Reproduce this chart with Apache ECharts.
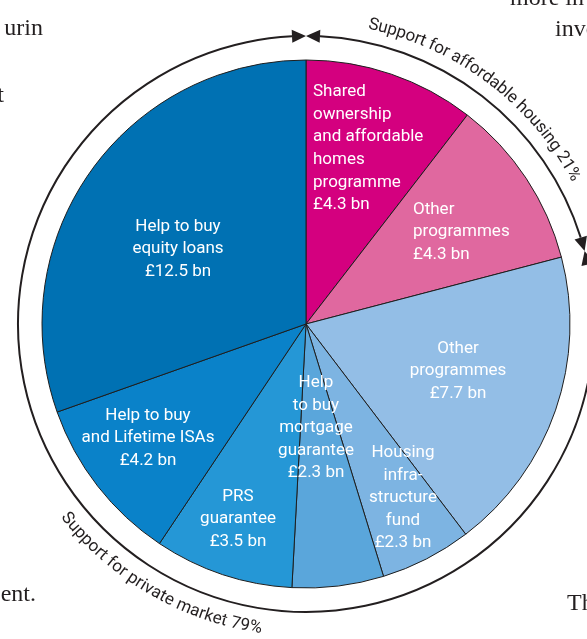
<!DOCTYPE html>
<html>
<head>
<meta charset="utf-8">
<script src="https://cdn.jsdelivr.net/npm/echarts@6/dist/echarts.min.js"></script>
<style>
  html, body { margin: 0; padding: 0; background: #ffffff; }
  #chart { width: 587px; height: 639px; }
</style>
</head>
<body>
<div id="chart"></div>
<script>
// slices, clockwise from 12 o'clock
const sliceNames = [
  'Shared\nownership\nand affordable\nhomes\nprogramme',
  'Other\nprogrammes',
  'Other\nprogrammes',
  'Housing\ninfra-\nstructure\nfund',
  'Help\nto buy\nmortgage\nguarantee',
  'PRS\nguarantee',
  'Help to buy\nand Lifetime ISAs',
  'Help to buy\nequity loans'
];
const sliceValues = [4.3, 4.3, 7.7, 2.3, 2.3, 3.5, 4.2, 12.5];
const sliceColors = ['#d4007f', '#e0689f', '#93bee6', '#7db4e2', '#5aa6db', '#2597d6', '#0a82c9', '#0071b3'];

// the two groups drawn round the outside ring
const groupTitles = ['Support for affordable housing 21%', 'Support for private market 79%'];
const groupSizes = [2, 6];   // how many slices belong to each group

// cut-off words of the page text behind the figure
const pageWords = ['urin', 't', 'more in', 'invest', 'ent.', 'and to', 'Th', 'housing'];

// ---- layout ----
const cx = 306, cy = 324, pieR = 264, ringR = 288;
const ink = '#231f20';
const labelSpots = [
  [313, 148.5, 'left'], [413, 232, 'left'], [458, 371, 'center'], [403, 498, 'center'],
  [316, 428, 'center'], [238, 519, 'center'], [148, 438, 'center'], [178, 249, 'center']
];
const wordSpots = [
  [43, 37, 'right'], [4, 104, 'right'], [510, 7, 'left'], [555, 38, 'left'],
  [36, 603, 'right'], [-12, 662, 'left'], [567, 612, 'left'], [522, 661, 'left']
];

const total = sliceValues.reduce((a, b) => a + b, 0);
const splitDeg = sliceValues.slice(0, groupSizes[0]).reduce((a, b) => a + b, 0) / total * 360;
const rad = d => d * Math.PI / 180;

// point on a circle, angle measured clockwise from north
function onCircle(r, th) {
  return [cx + r * Math.sin(th), cy - r * Math.cos(th)];
}

const graphics = [];

// ring arcs with double arrow heads
const headLen = 14, headHalf = 6.5;
function ringArc(fromDeg, toDeg) {
  const a0 = rad(fromDeg) + headLen / ringR;
  const a1 = rad(toDeg) - headLen / ringR;
  graphics.push({
    type: 'arc', silent: true,
    shape: { cx: cx, cy: cy, r: ringR, startAngle: a0 - Math.PI / 2, endAngle: a1 - Math.PI / 2, clockwise: true },
    style: { stroke: ink, lineWidth: 2, fill: null }
  });
  [[rad(fromDeg), a0], [rad(toDeg), a1]].forEach(([tipA, baseA]) => {
    const tip = onCircle(ringR, tipA);
    const u = [Math.sin(baseA), -Math.cos(baseA)];
    const b = onCircle(ringR, baseA);
    graphics.push({
      type: 'polygon', silent: true,
      shape: { points: [tip, [b[0] + u[0] * headHalf, b[1] + u[1] * headHalf], [b[0] - u[0] * headHalf, b[1] - u[1] * headHalf]] },
      style: { fill: ink }
    });
  });
}
ringArc(0, splitDeg);
ringArc(splitDeg, 360);

// text set along the ring, one glyph at a time
const arcFont = '17px Roboto';
const ctx = document.createElement('canvas').getContext('2d');
ctx.font = arcFont;
function arcText(str, r, centerDeg, outward) {
  const chars = Array.from(str);
  const widths = chars.map(c => ctx.measureText(c).width);
  const w = widths.reduce((a, b) => a + b, 0);
  let s = 0;
  chars.forEach((c, i) => {
    const mid = s + widths[i] / 2;
    s += widths[i];
    let th, rot;
    if (outward) {
      th = rad(centerDeg) - w / (2 * r) + mid / r;
      rot = -th;
    } else {
      th = rad(centerDeg) + w / (2 * r) - mid / r;
      rot = -(th - Math.PI);
    }
    const p = onCircle(r, th);
    graphics.push({
      type: 'text', silent: true, x: p[0], y: p[1], rotation: rot,
      style: {
        text: c, font: arcFont, fill: ink,
        align: 'center', verticalAlign: 'middle',
        textAlign: 'center', textVerticalAlign: 'middle'
      }
    });
  });
}
arcText(groupTitles[0], 306, splitDeg / 2 - 0.8, true);
arcText(groupTitles[1], 308, 210, false);

// page text fragments
pageWords.forEach((t, i) => {
  const s = wordSpots[i];
  graphics.push({
    type: 'text', silent: true, x: s[0], y: s[1] - 8,
    style: {
      text: t, font: '24px "Liberation Serif"', fill: ink,
      align: s[2], verticalAlign: 'middle',
      textAlign: s[2], textVerticalAlign: 'middle'
    }
  });
});

const chart = echarts.init(document.getElementById('chart'));
chart.setOption({
  animation: false,
  backgroundColor: '#ffffff',
  series: [{
    type: 'pie',
    center: [cx, cy],
    radius: pieR,
    startAngle: 90,
    clockwise: true,
    silent: true,
    itemStyle: { borderColor: '#1e1e1e', borderWidth: 1 },
    label: {
      show: true,
      position: 'inside',
      color: '#ffffff',
      fontFamily: 'Roboto',
      fontSize: 17,
      lineHeight: 22.6,
      formatter: p => p.name + '\n£' + p.value.toFixed(1) + ' bn'
    },
    labelLine: { show: false },
    labelLayout: p => {
      const s = labelSpots[p.dataIndex];
      return { x: s[0], y: s[1], align: s[2], verticalAlign: 'middle' };
    },
    data: sliceValues.map((v, i) => ({
      name: sliceNames[i],
      value: v,
      itemStyle: { color: sliceColors[i] }
    }))
  }],
  graphic: { elements: graphics }
});
</script>
</body>
</html>
